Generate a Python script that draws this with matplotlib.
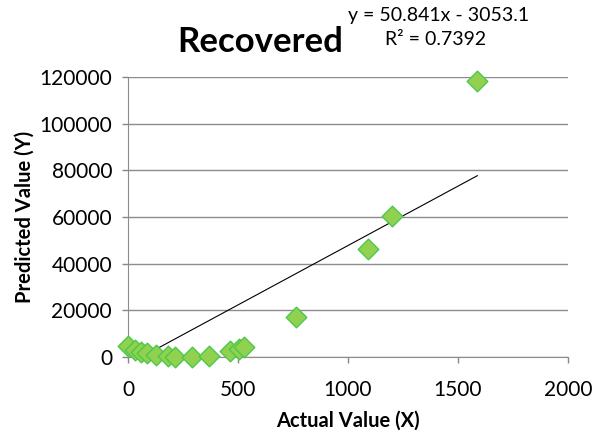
import numpy as np
import matplotlib.pyplot as plt

plt.rcParams['font.family'] = ['Lato', 'DejaVu Sans']

# Actual vs predicted values
actual = [0, 32, 59, 86, 127, 181, 213, 290, 367, 463, 503, 526, 762, 1089, 1202, 1588]
predicted = [4700, 3000, 2100, 1700, 860, 430, 100, 100, 400, 2600, 3400, 4300,
             17100, 46200, 60400, 118200]

slope = 50.841
intercept = -3053.1
r2 = 0.7392

x_ticks = [0, 500, 1000, 1500, 2000]
y_ticks = [0, 20000, 40000, 60000, 80000, 100000, 120000]

fig = plt.figure(figsize=(6.01, 4.34), dpi=100)
ax = fig.add_axes([0.213, 0.177, 0.732, 0.646])

# linear trendline across the data range
xl = np.array([min(actual), max(actual)])
ax.plot(xl, slope * xl + intercept, color='black', linewidth=0.8, zorder=2)

ax.scatter(actual, predicted, marker='D', s=110, facecolor='#92D050',
           edgecolor='#4CC94C', linewidth=1.0, zorder=3, clip_on=False)

ax.set_xlim(0, 2000)
ax.set_ylim(0, 120000)
ax.set_xticks(x_ticks)
ax.set_yticks(y_ticks)
ax.tick_params(axis='both', labelsize=15, colors='#888888', labelcolor='black',
               length=4.5, width=1, direction='out')
ax.tick_params(axis='x', pad=12)
ax.tick_params(axis='y', pad=7)
ax.grid(axis='y', color='#8c8c8c', linewidth=1)
ax.set_axisbelow(True)
for s in ['top', 'right']:
    ax.spines[s].set_visible(False)
for s in ['left', 'bottom']:
    ax.spines[s].set_color('#8c8c8c')

ax.set_xlabel('Actual Value (X)', fontsize=14.5, fontweight='bold')
ax.set_ylabel('Predicted Value (Y)', fontsize=14.5, fontweight='bold')
ax.xaxis.set_label_coords(0.5, -0.19)
ax.yaxis.set_label_coords(-0.212, 0.5)

fig.text(0.433, 0.903, 'Recovered', fontsize=25, fontweight='bold', ha='center', va='center')
fig.text(0.729, 0.965, 'y = 50.841x - 3053.1', fontsize=14, ha='center', va='center')
fig.text(0.725, 0.908, 'R² = 0.7392', fontsize=14, ha='center', va='center')

fig.savefig('out.png', dpi=100)
